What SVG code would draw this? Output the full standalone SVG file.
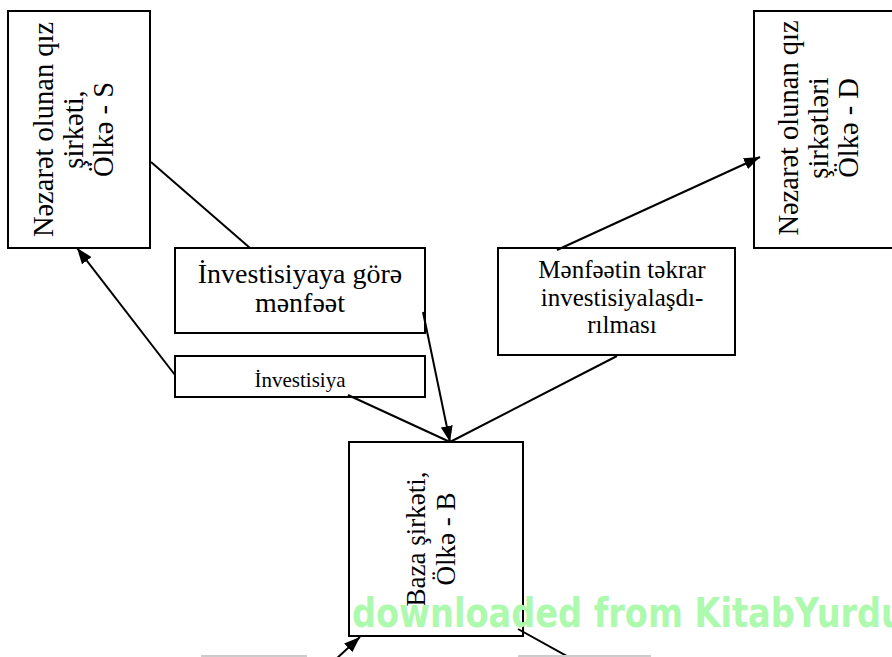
<svg xmlns="http://www.w3.org/2000/svg" width="892" height="657" viewBox="0 0 892 657">
<style>
.box{fill:#fff;stroke:#000;stroke-width:2}
.t{font-family:"Liberation Serif","Times New Roman",serif;fill:#000;text-anchor:middle}
.c{fill:none;stroke:#000;stroke-width:2}
.g{stroke:#cccccc;stroke-width:2}
.wm{font-family:"DejaVu Sans",sans-serif;font-weight:bold;font-size:40px;fill:#adf9ad}
</style>
<defs>
<marker id="ah" viewBox="0 0 16 12" refX="16" refY="6" markerWidth="16" markerHeight="12" markerUnits="userSpaceOnUse" orient="auto">
<path d="M0,0 L16,6 L0,12 z" fill="#000"/>
</marker>
</defs>
<rect width="892" height="657" fill="#fff"/>
<g id="node-S">
<rect class="box" x="8" y="11" width="142" height="237"/>
<text class="t" font-size="28.5" transform="translate(79,129.5) rotate(-90)"><tspan x="0" y="-26">Nəzarət olunan qız</tspan><tspan x="0" y="4">şirkəti,</tspan><tspan x="0" y="34">Ölkə - S</tspan></text>
</g>
<g id="node-D">
<rect class="box" x="754" y="11" width="150" height="237"/>
<text class="t" font-size="28.5" transform="translate(828,128) rotate(-90)"><tspan x="0" y="-30">Nəzarət olunan qız</tspan><tspan x="0" y="0">şirkətləri</tspan><tspan x="0" y="30">Ölkə - D</tspan></text>
</g>
<g id="node-profit">
<rect class="box" x="175" y="248" width="250" height="85"/>
<text class="t" font-size="28"><tspan x="300" y="283">İnvestisiyaya görə</tspan><tspan x="300" y="312">mənfəət</tspan></text>
</g>
<g id="node-invest">
<rect class="box" x="175" y="356" width="250" height="41"/>
<text class="t" font-size="21" x="300" y="387">İnvestisiya</text>
</g>
<g id="node-reinvest">
<rect class="box" x="498" y="248" width="237" height="107"/>
<text class="t" font-size="25"><tspan x="622" y="278">Mənfəətin təkrar</tspan><tspan x="622" y="306">investisiyalaşdı-</tspan><tspan x="622" y="333">rılması</tspan></text>
</g>
<g id="node-B">
<rect class="box" x="349" y="442" width="174" height="194"/>
<text class="t" font-size="27" transform="translate(440,539) rotate(-90)"><tspan x="0" y="-15">Baza şirkəti,</tspan><tspan x="0" y="15">Ölkə - B</tspan></text>
</g>
<g id="connectors">
<line class="c" x1="151" y1="162" x2="250" y2="248"/>
<line class="c" x1="423" y1="312" x2="450" y2="442" marker-end="url(#ah)"/>
<line class="c" x1="348" y1="395" x2="450" y2="442"/>
<line class="c" x1="175" y1="375" x2="77" y2="248" marker-end="url(#ah)"/>
<line class="c" x1="450" y1="442" x2="617" y2="356"/>
<line class="c" x1="557" y1="250" x2="760" y2="157" marker-end="url(#ah)"/>
<line class="c" x1="335" y1="660" x2="360" y2="637" marker-end="url(#ah)"/>
<line class="c" x1="518" y1="629" x2="574" y2="660"/>
<line class="g" x1="201" y1="656" x2="307" y2="656"/>
<line class="g" x1="518" y1="656" x2="651" y2="656"/>
</g>
<text class="wm" x="352" y="627" textLength="553" lengthAdjust="spacingAndGlyphs">downloaded from KitabYurdu</text>
</svg>
